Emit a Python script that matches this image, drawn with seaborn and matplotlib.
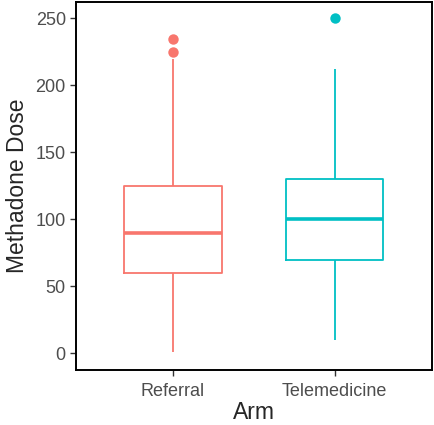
import matplotlib
matplotlib.use("Agg")
import matplotlib.pyplot as plt
import seaborn as sns
import pandas as pd

# doses per arm, picked so the box stats match the figure
arms = ["Referral", "Telemedicine"]
referral_dose = [1, 40, 55, 60, 70, 85, 90, 100, 115, 125, 220, 225, 235]
telemedicine_dose = [10, 50, 65, 70, 80, 95, 100, 110, 120, 130, 180, 212, 250]
arm_colors = ["#F8766D", "#00BFC4"]
y_ticks = [0, 50, 100, 150, 200, 250]

df = pd.DataFrame({
    "Arm": [arms[0]] * len(referral_dose) + [arms[1]] * len(telemedicine_dose),
    "Methadone Dose": referral_dose + telemedicine_dose,
})

sns.set_style("white")
plt.rcParams["font.family"] = ["Liberation Sans", "DejaVu Sans"]

fig = plt.figure(figsize=(4.34, 4.25), dpi=100)
ax = fig.add_axes([0.175, 0.129, 0.82, 0.867])

sns.boxplot(data=df, x="Arm", y="Methadone Dose", hue="Arm", order=arms,
            palette=dict(zip(arms, arm_colors)), fill=False, width=0.6,
            linewidth=1.3, whis=1.5, showcaps=False, legend=False, ax=ax,
            medianprops=dict(linewidth=2.6),
            flierprops=dict(marker="o", markersize=7.5, markeredgewidth=0))

# solid outlier dots in the arm colour
for line in ax.lines:
    if line.get_marker() == "o":
        line.set_markerfacecolor(line.get_markeredgecolor())
        line.set_markeredgewidth(0)

ax.set_xlim(-0.6, 1.6)
ax.set_ylim(-12.5, 262.5)
ax.set_yticks(y_ticks)
ax.set_xlabel("Arm", fontsize=16.5, labelpad=1)
ax.set_ylabel("Methadone Dose", fontsize=16.5, labelpad=5)
ax.tick_params(axis="both", labelsize=13, labelcolor="#4D4D4D", length=4.3,
               width=1, color="#333333", pad=3, left=True, bottom=True)
ax.tick_params(axis="x", pad=5)
for sp in ax.spines.values():
    sp.set_visible(True)
    sp.set_color("black")
    sp.set_linewidth(1.4)

fig.savefig("out.png", dpi=100)
plt.close()
